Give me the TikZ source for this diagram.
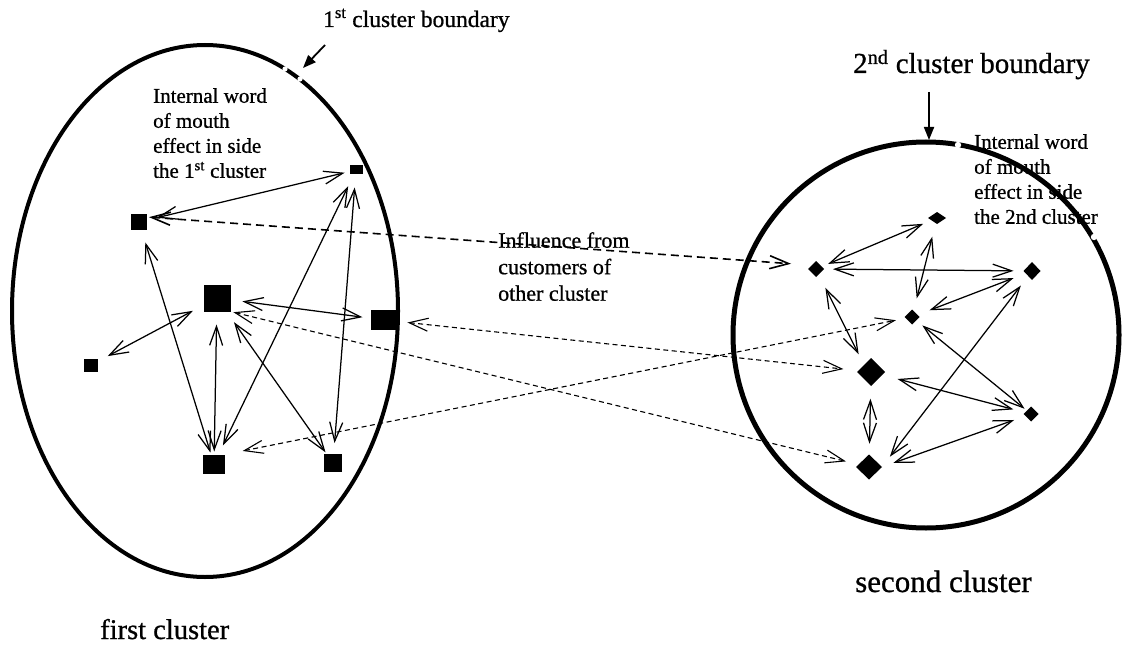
\documentclass[tikz,border=0pt]{standalone}
\usepackage{fontspec}
\setmainfont{Liberation Serif}[RawFeature={embolden=0.8}]
\usetikzlibrary{arrows.meta,shapes.geometric}
\begin{document}
\begin{tikzpicture}[x=1pt,y=-1pt,
  >={Straight Barb[length=19pt,width=13pt]},
  sq/.style={rectangle,fill=black,inner sep=0pt,outer sep=0pt},
  dm/.style={diamond,fill=black,inner sep=0pt,outer sep=0pt},
  link/.style={<->,line width=1.25pt},
  inf/.style={<->,line width=1.1pt,dash pattern=on 5pt off 3.5pt},
  inflong/.style={<->,line width=1.6pt,dash pattern=on 8pt off 5pt},
  ptr/.style={line width=1.8pt,-{Triangle[length=13pt,width=10pt]}},
  intext/.style={font=\fontsize{21}{25}\selectfont,align=left,inner sep=0pt,anchor=north west},
  gapw/.style={fill=white,draw=none}
]
\fill[white] (0,0) rectangle (1129,647);
\useasboundingbox (0,0) rectangle (1129,647);

% cluster boundaries
\draw[line width=4pt] (205,311) ellipse [x radius=193, y radius=266];
\fill[gapw] (285,69) circle (2.6);
\fill[gapw] (300,79) circle (2.6);

% labels
\node[inner sep=0pt,anchor=base west,font=\fontsize{23.5}{28}\selectfont] (lb1) at (323,27) {1\textsuperscript{st} cluster boundary};
\node[inner sep=0pt,anchor=base west,font=\fontsize{29}{34}\selectfont] (lb2) at (853,73) {2\textsuperscript{nd} cluster boundary};
\node[inner sep=0pt,anchor=base west,font=\fontsize{28.5}{34}\selectfont] (lbf) at (100,639) {first cluster};
\node[inner sep=0pt,anchor=base west,font=\fontsize{31}{36}\selectfont] (lbs) at (855,592) {second cluster};

\node[intext] (t1) at (153,88) {Internal word\\of mouth\\effect in side\\the 1\textsuperscript{st} cluster};
\node[intext] (t2) at (974,134) {Internal word\\of mouth\\effect in side\\the 2nd cluster};

\begin{scope}
\clip (480,220) rectangle (700,300);
\node[intext,font=\fontsize{22}{26.5}\selectfont] (infl) at (498,232) {Influence from\\customers of\\other cluster};
\end{scope}

\draw[line width=5pt] (926,335) circle (193);
\fill[gapw] (958,145) circle (3.2);
\fill[gapw] (1094,237) circle (3.2);

% pointers to boundaries
\coordinate (p1s) at (325,45);
\coordinate (p1e) at (303,68);
\coordinate (p2s) at (929,92);
\coordinate (p2e) at (929,140);
\draw[ptr] (p1s) -- (p1e);
\draw[ptr] (p2s) -- (p2e);

% first cluster customers
\node[sq,minimum width=13pt,minimum height=9pt] (A) at (356,170) {};
\node[sq,minimum width=16pt,minimum height=16pt] (B) at (139,222) {};
\node[sq,minimum width=27pt,minimum height=27pt] (C) at (217,298) {};
\node[sq,minimum width=27pt,minimum height=20pt] (D) at (384,320) {};
\node[sq,minimum width=14pt,minimum height=13pt] (E) at (91,365) {};
\node[sq,minimum width=22pt,minimum height=19pt] (F) at (214,464) {};
\node[sq,minimum width=18pt,minimum height=18pt] (G) at (333,463) {};

% second cluster customers
\node[dm,minimum width=18pt,minimum height=12pt] (R1) at (937,218) {};
\node[dm,minimum width=16pt,minimum height=16pt] (R2) at (816,269) {};
\node[dm,minimum width=17pt,minimum height=18pt] (R3) at (1032,271) {};
\node[dm,minimum width=15pt,minimum height=15pt] (R4) at (912,317) {};
\node[dm,minimum width=28pt,minimum height=28pt] (R5) at (871,372) {};
\node[dm,minimum width=15pt,minimum height=15pt] (R6) at (1031,414) {};
\node[dm,minimum width=26pt,minimum height=25pt] (R7) at (869,467) {};

% internal links, first cluster
\draw[link,shorten <=10pt,shorten >=5pt] (B) -- (A);
\draw[link,shorten <=13pt,shorten >=2pt] (B) -- (F);
\draw[link,shorten <=13pt,shorten >=10pt] (A) -- (F);
\draw[link,shorten <=13pt,shorten >=11pt] (A) -- (G);
\draw[link,shorten <=12pt,shorten >=8pt] (C) -- (D);
\draw[link,shorten <=12pt,shorten >=11pt] (C) -- (E);
\draw[link,shorten <=13pt,shorten >=3pt] (C) -- (F);
\draw[link,shorten <=13pt,shorten >=2pt] (C) -- (G);

% internal links, second cluster
\draw[link,shorten <=7pt,shorten >=9pt] (R2) -- (R1);
\draw[link,shorten <=9pt,shorten >=10pt] (R2) -- (R3);
\draw[link,shorten <=14pt,shorten >=13pt] (R1) -- (R4);
\draw[link,shorten <=13pt,shorten >=13pt] (R3) -- (R4);
\draw[link,shorten <=15pt,shorten >=12pt] (R2) -- (R5.north west);
\draw[link,shorten <=8pt,shorten >=3pt] (R4) -- (R6);
\draw[link,shorten <=16pt,shorten >=12pt] (R5) -- (R6);
\draw[link,shorten <=12pt,shorten >=13pt] (R3) -- (R7.east);
\draw[link,shorten <=12pt,shorten >=12pt] (R6) -- (R7.east);
\draw[link,shorten <=13pt,shorten >=11pt] (R5) -- (R7);

% influence between clusters
\draw[inflong,shorten <=2pt,shorten >=17pt] ([yshift=5pt]B.east) -- ([yshift=4pt]R2.west);
\draw[inf,shorten <=10pt,shorten >=15pt] (D) -- (R5);
\draw[inf,shorten <=3pt,shorten >=13pt] (C.south east) -- (R7);
\draw[inf,shorten <=18pt,shorten >=10pt] (F.north east) -- (R4);
\end{tikzpicture}
\end{document}
